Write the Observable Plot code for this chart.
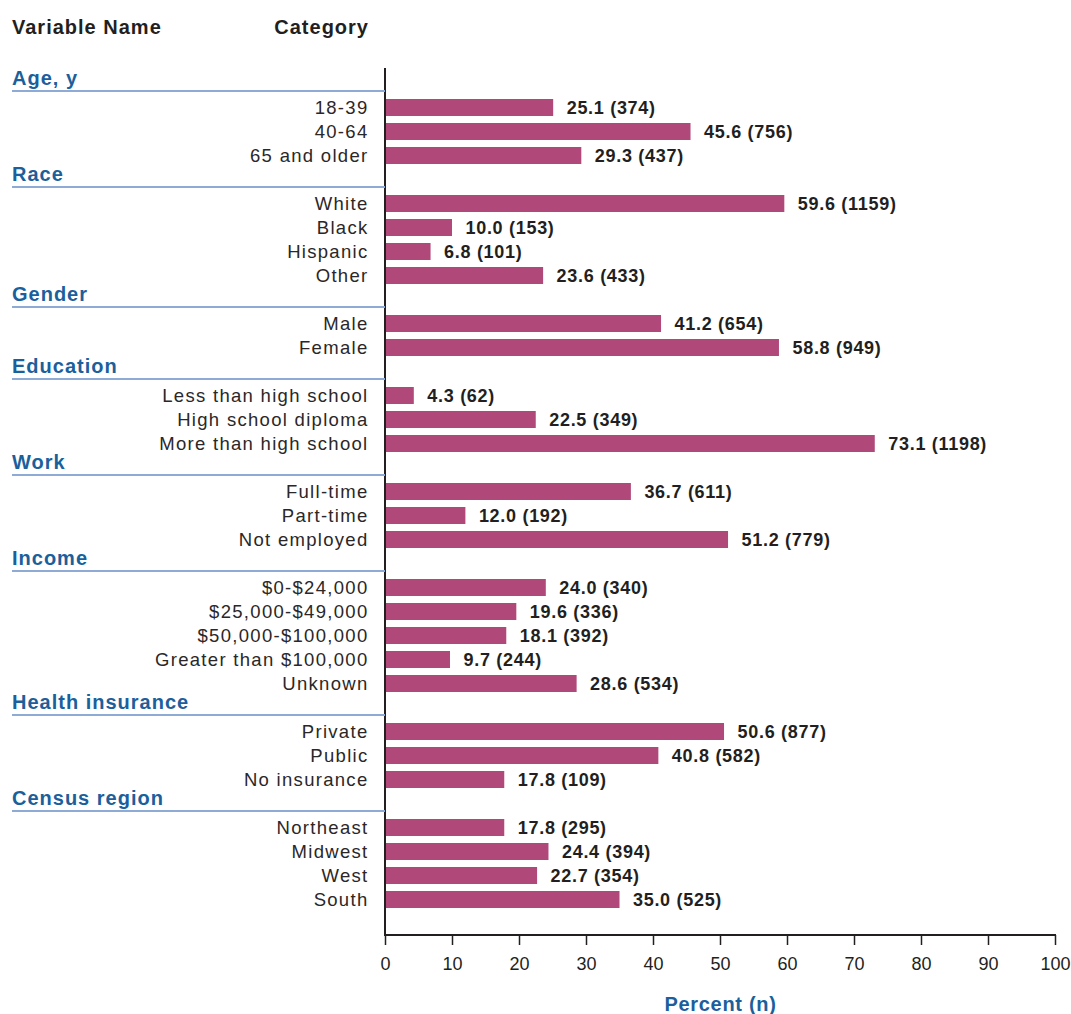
<!DOCTYPE html>
<html>
<head>
<meta charset="utf-8">
<script src="https://cdn.jsdelivr.net/npm/d3@7"></script>
<script src="https://cdn.jsdelivr.net/npm/@observablehq/plot@0.6"></script>
<style>
  html, body { margin: 0; padding: 0; background: #fff; }
  #chart svg { display: block; font-family: "Liberation Sans", Arial, Helvetica, sans-serif; }
  .cat text { letter-spacing: 1.3px; }
  .val text { letter-spacing: 0.7px; }
  .hdr text { letter-spacing: 1px; }
  .xlab text { letter-spacing: 0.7px; }
</style>
</head>
<body>
<div id="chart"></div>
<script>
// ---- Data ----
const groupNames = ["Age, y", "Race", "Gender", "Education", "Work", "Income", "Health insurance", "Census region"];
const categories = ["18-39", "40-64", "65 and older", "White", "Black", "Hispanic", "Other", "Male", "Female",
  "Less than high school", "High school diploma", "More than high school", "Full-time", "Part-time", "Not employed",
  "$0-$24,000", "$25,000-$49,000", "$50,000-$100,000", "Greater than $100,000", "Unknown",
  "Private", "Public", "No insurance", "Northeast", "Midwest", "West", "South"];
const categoryGroup = ["Age, y", "Age, y", "Age, y", "Race", "Race", "Race", "Race", "Gender", "Gender",
  "Education", "Education", "Education", "Work", "Work", "Work",
  "Income", "Income", "Income", "Income", "Income",
  "Health insurance", "Health insurance", "Health insurance",
  "Census region", "Census region", "Census region", "Census region"];
const percent = [25.1, 45.6, 29.3, 59.6, 10.0, 6.8, 23.6, 41.2, 58.8, 4.3, 22.5, 73.1, 36.7, 12.0, 51.2,
  24.0, 19.6, 18.1, 9.7, 28.6, 50.6, 40.8, 17.8, 17.8, 24.4, 22.7, 35.0];
const counts = [374, 756, 437, 1159, 153, 101, 433, 654, 949, 62, 349, 1198, 611, 192, 779,
  340, 336, 392, 244, 534, 877, 582, 109, 295, 394, 354, 525];
const xTicks = [0, 10, 20, 30, 40, 50, 60, 70, 80, 90, 100];

// ---- Build rows (a header slot before each group) ----
const rows = [];
const headerRows = [];
for (const g of groupNames) {
  const h = {key: "H|" + g, group: g};
  rows.push(h); headerRows.push(h);
  categories.forEach((c, i) => {
    if (categoryGroup[i] === g) rows.push({key: g + "|" + c, category: c, percent: percent[i], n: counts[i]});
  });
}
const bars = rows.filter(d => d.category !== undefined);
const domainKeys = rows.map(d => d.key);

const ink = "#231f20";
const barColor = "#b0497a";
const blue = "#1b5f9c";
const lineColor = "#8eabd6";
const W = 1071, H = 1014;
const mL = 385, mR = 16, mT = 68, mB = 79;

function frameLines(index, scales, values, dims) {
  const g = d3.create("svg:g");
  const x0 = dims.marginLeft, x1 = dims.width - dims.marginRight;
  const y0 = dims.marginTop, y1 = dims.height - dims.marginBottom;
  g.append("line").attr("x1", x0).attr("x2", x0).attr("y1", y0).attr("y2", y1 + 1)
    .attr("stroke", ink).attr("stroke-width", 2);
  g.append("line").attr("x1", x0 - 1).attr("x2", x1 + 1).attr("y1", y1).attr("y2", y1)
    .attr("stroke", ink).attr("stroke-width", 2);
  return g.node();
}

function headerMark(index, scales, values, dims) {
  const g = d3.create("svg:g").attr("text-anchor", "start").attr("class", "hdr");
  const bw = scales.y.bandwidth ? scales.y.bandwidth() : 0;
  for (const h of headerRows) {
    const cy = scales.y(h.key) + bw / 2;
    g.append("line").attr("x1", 12).attr("x2", dims.marginLeft).attr("y1", cy + 7.5).attr("y2", cy + 7.5)
      .attr("stroke", lineColor).attr("stroke-width", 2.2);
    g.append("text").attr("x", 12).attr("y", cy - 6).attr("dy", "0.36em").attr("text-anchor", "start")
      .attr("fill", blue).attr("font-weight", "bold").attr("font-size", 20).text(h.group);
  }
  // column headers
  g.append("text").attr("x", 12).attr("y", 27).attr("dy", "0.36em").attr("text-anchor", "start")
    .attr("fill", ink).attr("font-weight", "bold").attr("font-size", 20).text("Variable Name");
  g.append("text").attr("x", dims.marginLeft - 16).attr("y", 27).attr("dy", "0.36em").attr("text-anchor", "end")
    .attr("fill", ink).attr("font-weight", "bold").attr("font-size", 20).text("Category");
  return g.node();
}

const chart = Plot.plot({
  width: W,
  height: H,
  marginLeft: mL,
  marginRight: mR,
  marginTop: mT,
  marginBottom: mB,
  x: {domain: [0, 100], axis: null},
  y: {type: "band", domain: domainKeys, range: [70, 914], paddingInner: 0.28, paddingOuter: 0.14, axis: null},
  marks: [
    Plot.barX(bars, {x: "percent", y: "key", fill: barColor}),
    Plot.text(bars, {x: "percent", y: "key", text: d => `${d.percent.toFixed(1)} (${d.n})`,
      textAnchor: "start", dx: 13, fontWeight: "bold", fontSize: 18, fill: ink, className: "val"}),
    Plot.text(bars, {x: 0, y: "key", text: "category", textAnchor: "end", dx: -17, fontSize: 18.5, fill: "#2b2728", className: "cat"}),
    Plot.axisX({ticks: xTicks, tickSize: 10, tickPadding: 12, fontSize: 18, stroke: ink, strokeWidth: 1.5, color: ink, label: null}),
    Plot.text(["Percent (n)"], {frameAnchor: "bottom", dy: 75, text: d => d, fill: blue, fontWeight: "bold", fontSize: 20, className: "xlab"}),
    frameLines,
    headerMark
  ]
});
document.getElementById("chart").appendChild(chart);
</script>
</body>
</html>
